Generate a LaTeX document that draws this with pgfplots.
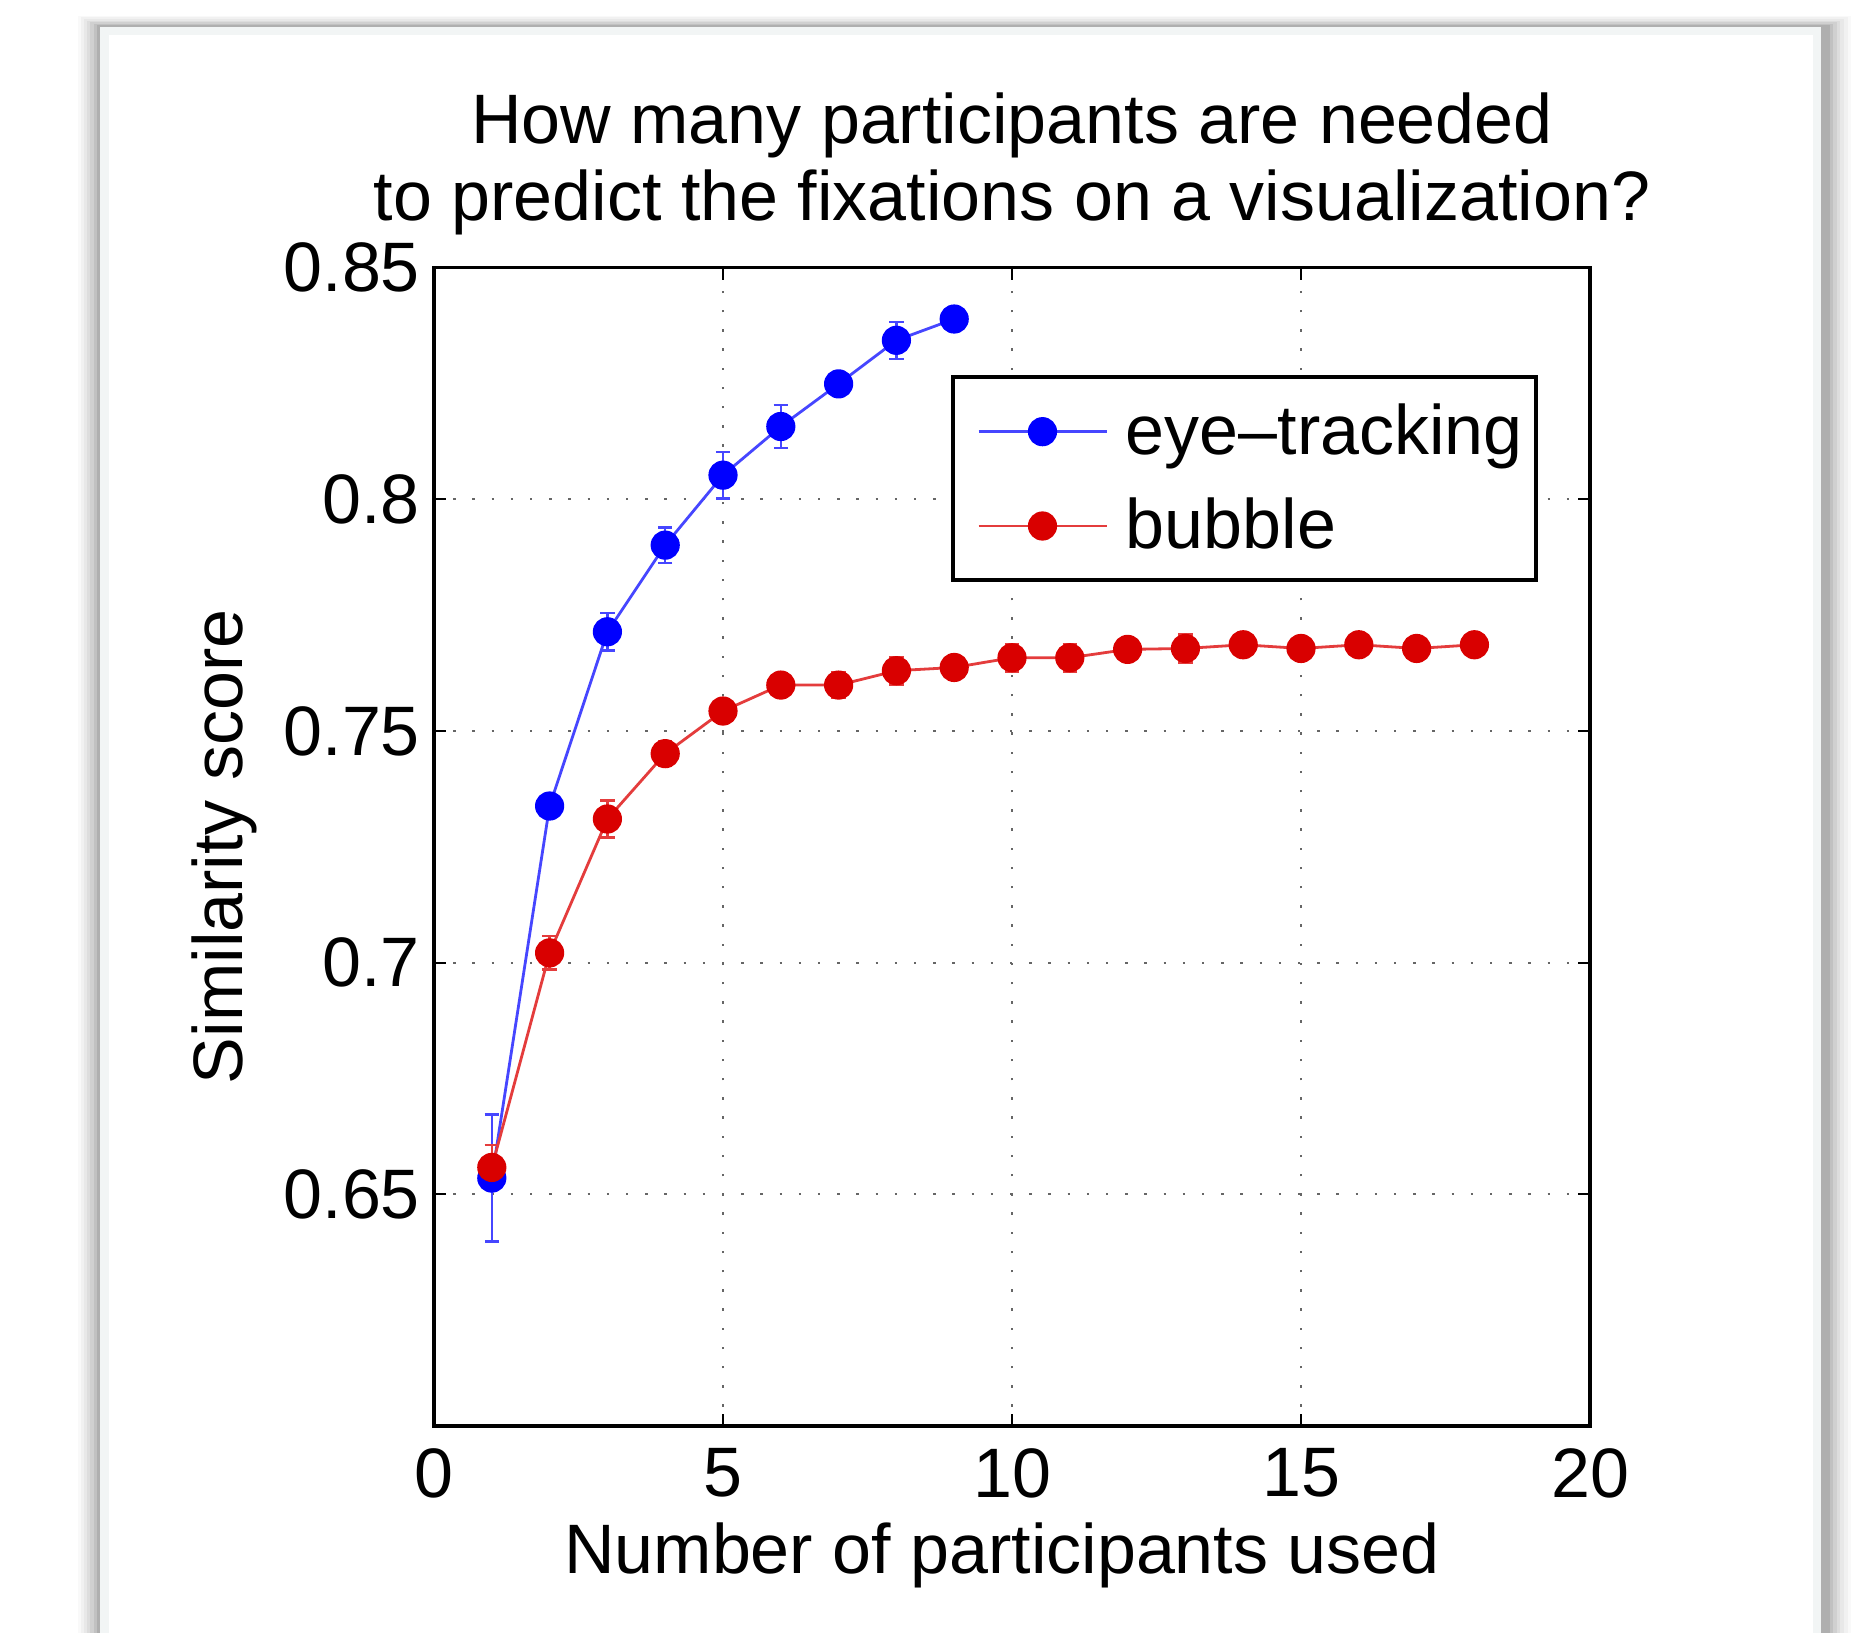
\documentclass[border=0pt]{standalone}
\usepackage{fontspec}
\setmainfont{Liberation Sans}
\usepackage{pgfplots}
\pgfplotsset{compat=1.18}
\definecolor{mred}{RGB}{217,0,0}
\definecolor{mblue}{RGB}{0,0,255}
\definecolor{lblue}{RGB}{70,70,255}
\definecolor{lred}{RGB}{228,60,60}
\definecolor{cardedge}{RGB}{242,245,245}
\pgfplotstableread{
x y e
1 0.6535 0.0137
2 0.7338 0.0020
3 0.7714 0.0040
4 0.7901 0.0038
5 0.8052 0.0050
6 0.8157 0.0047
7 0.8249 0.0020
8 0.8343 0.0040
9 0.8389 0.0010
}\eyetable
\pgfplotstableread{
x y e
1 0.6558 0.0048
2 0.7021 0.0036
3 0.7310 0.0040
4 0.7451 0.0027
5 0.7543 0.0020
6 0.7599 0.0025
7 0.7599 0.0028
8 0.7630 0.0030
9 0.7637 0.0025
10 0.7658 0.0030
11 0.7658 0.0030
12 0.7676 0.0025
13 0.7678 0.0030
14 0.7686 0.0020
15 0.7678 0.0020
16 0.7686 0.0020
17 0.7678 0.0020
18 0.7686 0.0020
}\bubbletable
\begin{document}
\begin{tikzpicture}[x=1pt,y=1pt]
\useasboundingbox (0,0) rectangle (464.5,408.25);
\fill[white] (0,0) rectangle (464.5,408.25);
\foreach \d/\o in {7/0.025,6/0.03,5/0.035,4/0.045,3/0.055,2/0.07,1/0.09}{
  \fill[black,opacity=\o] (25-\d*0.8,-10) rectangle (456.5+\d*0.9,401.5+\d*0.4);
}
\fill[cardedge] (25,-10) rectangle (455.25,401.5);
\fill[white] (27.25,-10) rectangle (453.25,399.5);
\begin{axis}[
  at={(108.5pt,51.75pt)}, anchor=south west,
  scale only axis, width=289pt, height=289.6pt,
  xmin=0, xmax=20, ymin=0.6, ymax=0.85,
  xtick={0,5,10,15,20},
  ytick={0.65,0.7,0.75,0.8,0.85},
  tick align=inside, major tick length=3pt,
  axis line style={line width=0.8pt},
  every tick/.style={black, line width=0.5pt},
  grid=major,
  grid style={black!60, line width=0.5pt, dash pattern=on 0.6pt off 4.2pt},
  /pgf/number format/assume math mode=true,
  yticklabel style={/pgf/number format/fixed, /pgf/number format/precision=2},
  xticklabel style={yshift=-2pt},
  every tick label/.append style={font=\fontsize{17.5}{21}\selectfont},
  xlabel={Number of participants used},
  ylabel={Similarity score},
  every axis x label/.style={at={(axis description cs:0.5,0)}, anchor=base, yshift=-37pt, xshift=-2.5pt, font=\fontsize{17.5}{21}\selectfont},
  every axis y label/.style={at={(axis description cs:-0.1817,0.5)}, rotate=90, anchor=center, font=\fontsize{17.5}{21}\selectfont},
  title={How many participants are needed\\to predict the fixations on a visualization?},
  title style={at={(axis description cs:0.5,1)}, anchor=south, yshift=-1.5pt, align=center, font=\fontsize{17.5}{19.25}\selectfont},
  legend style={at={(axis description cs:0.955,0.907)}, anchor=north east,
    draw=black, line width=1pt, fill=white,
    inner xsep=3.3pt, inner ysep=6.5pt,
    nodes={inner sep=0pt, font=\fontsize{17.5}{21}\selectfont},
    row sep=9.4pt,
    /tikz/every odd column/.append style={column sep=4.5pt}},
  legend cell align=left,
  legend image code/.code={\path (0pt,0pt); \draw[#1,mark repeat=2,mark phase=2] plot coordinates {(2.7pt,0pt)(18.7pt,0pt)(34.7pt,0pt)};},
]
\addplot[lblue, line width=0.7pt, mark=*, mark size=3.3pt, mark options={solid, fill=mblue, draw=mblue},
  error bars/.cd, y dir=both, y explicit,
  error bar style={line width=0.6pt, lblue},
  error mark options={rotate=90, mark size=1.8pt, line width=0.6pt, lblue}]
  table[x=x, y=y, y error=e] {\eyetable};
\addlegendentry{eye–tracking}
\addplot[lred, line width=0.7pt, mark=*, mark size=3.3pt, mark options={solid, fill=mred, draw=mred},
  error bars/.cd, y dir=both, y explicit,
  error bar style={line width=0.6pt, lred},
  error mark options={rotate=90, mark size=1.8pt, line width=0.6pt, lred}]
  table[x=x, y=y, y error=e] {\bubbletable};
\addlegendentry{bubble}
\end{axis}
\end{tikzpicture}
\end{document}
